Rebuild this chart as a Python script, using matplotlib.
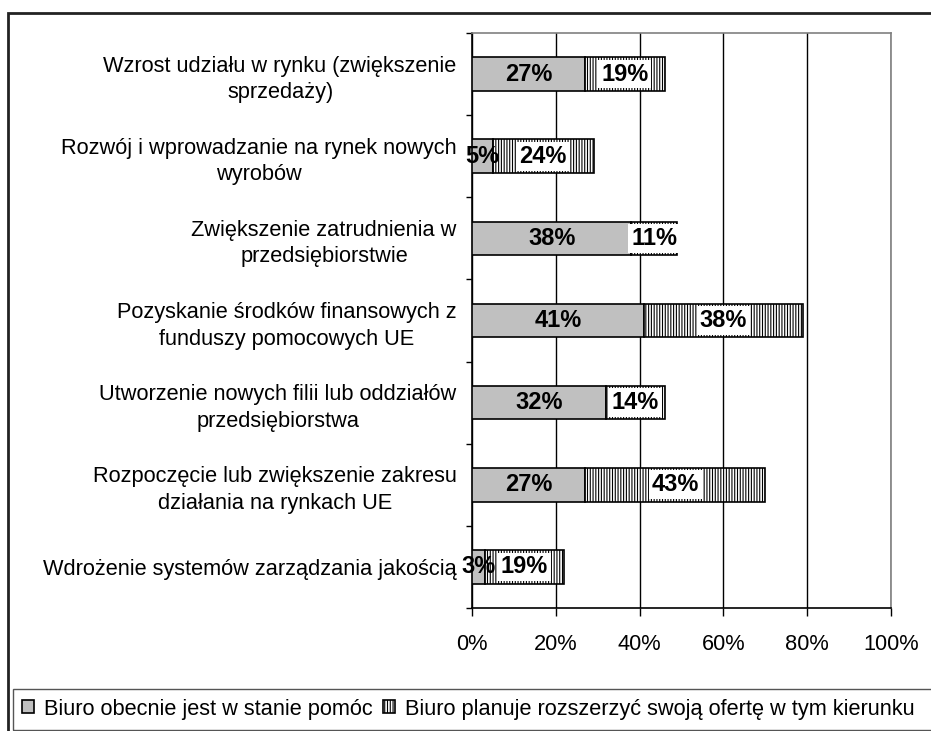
import matplotlib
matplotlib.use("Agg")
import matplotlib.pyplot as plt
from matplotlib.patches import Rectangle
import numpy as np

plt.rcParams['font.family'] = ['Liberation Sans', 'DejaVu Sans']
plt.rcParams['hatch.linewidth'] = 0.8

categories = [
    "Wzrost udziału w rynku (zwiększenie\nsprzedaży)",
    "Rozwój i wprowadzanie na rynek nowych\nwyrobów",
    "Zwiększenie zatrudnienia w\nprzedsiębiorstwie",
    "Pozyskanie środków finansowych z\nfunduszy pomocowych UE",
    "Utworzenie nowych filii lub oddziałów\nprzedsiębiorstwa",
    "Rozpoczęcie lub zwiększenie zakresu\ndziałania na rynkach UE",
    "Wdrożenie systemów zarządzania jakością",
]
series_names = ["Biuro obecnie jest w stanie pomóc",
                "Biuro planuje rozszerzyć swoją ofertę w tym kierunku"]
current = [27, 5, 38, 41, 32, 27, 3]
planned = [19, 24, 11, 38, 14, 43, 19]
x_ticks = [0, 20, 40, 60, 80, 100]
x_ticklabels = ["0%", "20%", "40%", "60%", "80%", "100%"]

W, H = 931, 731
fig = plt.figure(figsize=(W / 100, H / 100), dpi=100)
ax = fig.add_axes([472 / W, 1 - 608 / H, (891 - 472) / W, (608 - 33) / H])

y = np.arange(len(categories))
FS = 15.7
b1 = ax.barh(y, current, height=0.41, color='#C0C0C0', edgecolor='black',
             linewidth=1.2, label=series_names[0], zorder=3)
b2 = ax.barh(y, planned, left=current, height=0.41, color='white',
             edgecolor='black', hatch='||||||', linewidth=1.2,
             label=series_names[1], zorder=3)

ax.bar_label(b1, labels=[f"{v}%" for v in current], label_type='center',
             fontsize=17, fontweight='bold', zorder=5)
ax.bar_label(b2, labels=[f"{v}%" for v in planned], label_type='center',
             fontsize=17, fontweight='bold', zorder=5,
             bbox=dict(facecolor='white', edgecolor='none', pad=2.0))

ax.set_xlim(0, 100)
ax.set_ylim(len(categories) - 0.5, -0.5)
ax.set_xticks(x_ticks)
ax.set_xticklabels(x_ticklabels, fontsize=FS)
ax.set_yticks(y)
ax.set_yticklabels(categories, fontsize=FS, multialignment='center',
                   linespacing=1.35)
ax.set_yticks(np.arange(-0.5, len(categories), 1.0), minor=True)
ax.tick_params(axis='y', which='major', length=0, pad=11)
ax.tick_params(axis='y', which='minor', length=4, width=1, direction='out')
ax.tick_params(axis='x', which='major', length=6, width=1, direction='out',
               pad=13)
ax.xaxis.grid(True, color='black', linewidth=1, zorder=0)
ax.set_axisbelow(True)
for s in ['left', 'bottom']:
    ax.spines[s].set_color('black')
    ax.spines[s].set_linewidth(1.2)
for s in ['top', 'right']:
    ax.spines[s].set_color('#808080')
    ax.spines[s].set_linewidth(1.2)

# outer chart frame
fig.add_artist(Rectangle((8 / W, -0.1), 1.2, (H - 13) / H + 0.1,
                         transform=fig.transFigure, fill=False,
                         edgecolor='#222222', linewidth=2))
# legend box
fig.add_artist(Rectangle((13 / W, 1 - 730 / H), 1.2, 41 / H,
                         transform=fig.transFigure, fill=False,
                         edgecolor='#555555', linewidth=1))
fig.legend(handles=[b1, b2], labels=series_names, loc='center left',
           bbox_to_anchor=(13 / W, 1 - 709 / H), ncol=2, frameon=False,
           fontsize=FS, handlelength=0.55, handleheight=0.55,
           handletextpad=0.45, columnspacing=0.5, borderpad=0.4,
           borderaxespad=0)

fig.savefig("out.png", dpi=100)
